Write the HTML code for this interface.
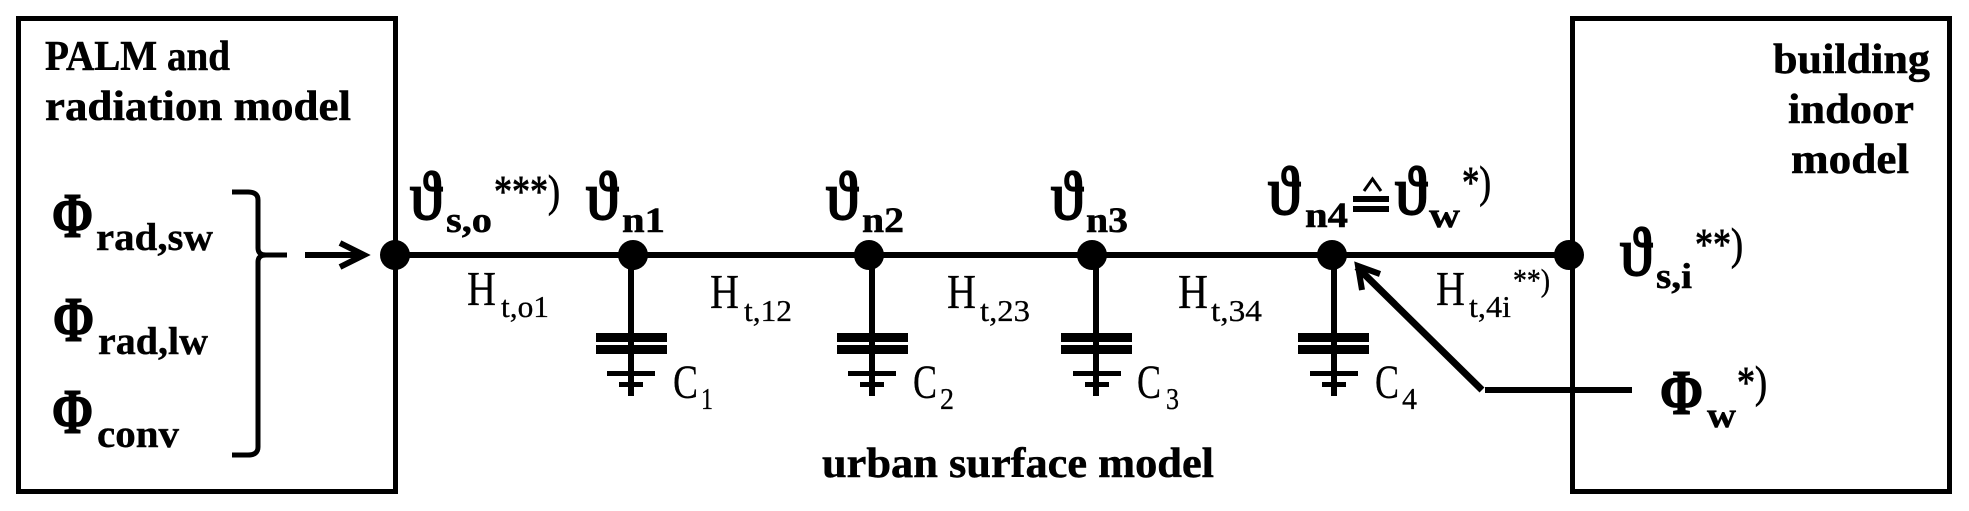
<!DOCTYPE html>
<html><head><meta charset="utf-8"><style>
html,body{margin:0;padding:0;background:#fff;width:1969px;height:511px;overflow:hidden}
svg{display:block}
text{font-family:"Liberation Serif","DejaVu Serif",serif;fill:#000}
.l{font-size:42px;font-weight:bold;stroke:#000;stroke-width:.5px}
.p{font-size:63px;font-weight:bold;stroke:#000;stroke-width:1.4px}
.s{font-size:39px;font-weight:bold;stroke:#000;stroke-width:.4px}
.n{font-size:36px;font-weight:bold;stroke:#000;stroke-width:.5px}
.t{font-size:68px;stroke:#000;stroke-width:2.2px}
.u{font-size:44px;stroke:#000;stroke-width:.9px}
.v{font-size:32px;stroke:#000;stroke-width:.4px}
.h{font-size:49px;stroke:#000;stroke-width:.3px}
.c{font-size:48px;stroke:#000;stroke-width:.3px}
.q{font-size:31px;stroke:#000;stroke-width:.3px}
</style></head><body>
<svg width="1969" height="511" viewBox="0 0 1969 511" xmlns="http://www.w3.org/2000/svg">
<rect width="1969" height="511" fill="#fff"/>
<g fill="none" stroke="#000">
<rect x="18.5" y="18.5" width="377" height="473" stroke-width="5"/>
<rect x="1572.5" y="18.5" width="377" height="473" stroke-width="5"/>
<path d="M395 255H1569" stroke-width="6"/>
<path d="M631 255V396M872 255V396M1096 255V396M1334 255V396" stroke-width="6"/>
<path d="M232 192H248Q258 192 258 200V248Q258 255 266 255H287M266 255Q258 255 258 262V447Q258 455 248 455H232" stroke-width="5"/>
<path d="M305 255H364M340 243L364 255L340 267" stroke-width="6"/>
<path d="M1632 390H1485" stroke-width="6"/>
<path d="M1482 390L1357 267" stroke-width="7"/>
<path d="M1380 274L1358 266L1362 290" stroke-width="6"/>
<path d="M1364 191L1372.500 179L1381 191" stroke-width="3"/>
</g>
<g fill="#000">
<circle cx="395" cy="255" r="15"/><circle cx="633" cy="255" r="15"/><circle cx="869" cy="255" r="15"/><circle cx="1092" cy="255" r="15"/><circle cx="1332" cy="255" r="15"/><circle cx="1569" cy="255" r="15"/>
<rect x="596" y="333" width="71" height="9"/><rect x="596" y="345" width="71" height="9"/><rect x="607" y="371" width="48" height="5"/><rect x="619" y="382" width="24" height="5"/>
<rect x="837" y="333" width="71" height="9"/><rect x="837" y="345" width="71" height="9"/><rect x="848" y="371" width="48" height="5"/><rect x="860" y="382" width="24" height="5"/>
<rect x="1061" y="333" width="71" height="9"/><rect x="1061" y="345" width="71" height="9"/><rect x="1073" y="371" width="48" height="5"/><rect x="1085" y="382" width="24" height="5"/>
<rect x="1298" y="333" width="71" height="9"/><rect x="1298" y="345" width="71" height="9"/><rect x="1310" y="371" width="48" height="5"/><rect x="1322" y="382" width="24" height="5"/>
<rect x="1353" y="196" width="36" height="6"/><rect x="1353" y="206" width="36" height="6"/>
</g>
<text class="l" x="45" y="70" textLength="185" lengthAdjust="spacingAndGlyphs">PALM and</text>
<text class="l" x="45" y="120" textLength="306" lengthAdjust="spacingAndGlyphs">radiation model</text>
<text class="l" x="1773" y="73" textLength="157" lengthAdjust="spacingAndGlyphs">building</text>
<text class="l" x="1788" y="123" textLength="126" lengthAdjust="spacingAndGlyphs">indoor</text>
<text class="l" x="1791" y="173" textLength="118" lengthAdjust="spacingAndGlyphs">model</text>
<text class="l" x="822" y="477" textLength="392" lengthAdjust="spacingAndGlyphs">urban surface model</text>

<text class="p" x="52" y="237" textLength="41" lengthAdjust="spacingAndGlyphs">Φ</text>
<text class="s" x="96" y="250" textLength="117" lengthAdjust="spacingAndGlyphs">rad,sw</text>
<text class="p" x="53" y="341" textLength="41" lengthAdjust="spacingAndGlyphs">Φ</text>
<text class="s" x="98" y="354" textLength="110" lengthAdjust="spacingAndGlyphs">rad,lw</text>
<text class="p" x="52" y="433" textLength="41" lengthAdjust="spacingAndGlyphs">Φ</text>
<text class="s" x="97" y="447" textLength="82" lengthAdjust="spacingAndGlyphs">conv</text>

<text class="t" x="410" y="219" textLength="32" lengthAdjust="spacingAndGlyphs">ϑ</text>
<text class="n" x="446" y="232" textLength="46" lengthAdjust="spacingAndGlyphs">s,o</text>
<text class="u" x="494" y="206" textLength="66" lengthAdjust="spacingAndGlyphs">***)</text>
<text class="t" x="586" y="219" textLength="32" lengthAdjust="spacingAndGlyphs">ϑ</text>
<text class="n" x="622" y="232" textLength="43" lengthAdjust="spacingAndGlyphs">n1</text>
<text class="t" x="826" y="219" textLength="32" lengthAdjust="spacingAndGlyphs">ϑ</text>
<text class="n" x="862" y="232" textLength="42" lengthAdjust="spacingAndGlyphs">n2</text>
<text class="t" x="1051" y="219" textLength="32" lengthAdjust="spacingAndGlyphs">ϑ</text>
<text class="n" x="1086" y="232" textLength="42" lengthAdjust="spacingAndGlyphs">n3</text>
<text class="t" x="1268" y="214" textLength="32" lengthAdjust="spacingAndGlyphs">ϑ</text>
<text class="n" x="1305" y="227" textLength="43" lengthAdjust="spacingAndGlyphs">n4</text>
<text class="t" x="1395" y="214" textLength="32" lengthAdjust="spacingAndGlyphs">ϑ</text>
<text class="n" x="1429" y="227" textLength="31" lengthAdjust="spacingAndGlyphs">w</text>
<text class="u" x="1462" y="197" textLength="29" lengthAdjust="spacingAndGlyphs">*)</text>
<text class="t" x="1620" y="275" textLength="32" lengthAdjust="spacingAndGlyphs">ϑ</text>
<text class="n" x="1656" y="288" textLength="36" lengthAdjust="spacingAndGlyphs">s,i</text>
<text class="u" x="1695" y="259" textLength="48" lengthAdjust="spacingAndGlyphs">**)</text>
<text class="p" x="1660" y="414" textLength="43" lengthAdjust="spacingAndGlyphs">Φ</text>
<text class="n" x="1707" y="427" textLength="29" lengthAdjust="spacingAndGlyphs">w</text>
<text class="u" x="1737" y="397" textLength="30" lengthAdjust="spacingAndGlyphs">*)</text>

<text class="h" x="467" y="305" textLength="29" lengthAdjust="spacingAndGlyphs">H</text>
<text class="q" x="501" y="317" textLength="48" lengthAdjust="spacingAndGlyphs">t,o1</text>
<text class="h" x="710" y="308" textLength="29" lengthAdjust="spacingAndGlyphs">H</text>
<text class="q" x="744" y="321" textLength="48" lengthAdjust="spacingAndGlyphs">t,12</text>
<text class="h" x="947" y="308" textLength="29" lengthAdjust="spacingAndGlyphs">H</text>
<text class="q" x="980" y="321" textLength="50" lengthAdjust="spacingAndGlyphs">t,23</text>
<text class="h" x="1178" y="308" textLength="30" lengthAdjust="spacingAndGlyphs">H</text>
<text class="q" x="1211" y="321" textLength="51" lengthAdjust="spacingAndGlyphs">t,34</text>
<text class="h" x="1436" y="305" textLength="29" lengthAdjust="spacingAndGlyphs">H</text>
<text class="q" x="1469" y="317" textLength="42" lengthAdjust="spacingAndGlyphs">t,4i</text>
<text class="v" x="1513" y="291" textLength="37" lengthAdjust="spacingAndGlyphs">**)</text>

<text class="c" x="673" y="398" textLength="25" lengthAdjust="spacingAndGlyphs">C</text>
<text class="q" x="701" y="409" textLength="12" lengthAdjust="spacingAndGlyphs">1</text>
<text class="c" x="913" y="398" textLength="24" lengthAdjust="spacingAndGlyphs">C</text>
<text class="q" x="940" y="409" textLength="14" lengthAdjust="spacingAndGlyphs">2</text>
<text class="c" x="1137" y="398" textLength="24" lengthAdjust="spacingAndGlyphs">C</text>
<text class="q" x="1166" y="409" textLength="13" lengthAdjust="spacingAndGlyphs">3</text>
<text class="c" x="1375" y="398" textLength="24" lengthAdjust="spacingAndGlyphs">C</text>
<text class="q" x="1402" y="409" textLength="15" lengthAdjust="spacingAndGlyphs">4</text>
</svg>
</body></html>
